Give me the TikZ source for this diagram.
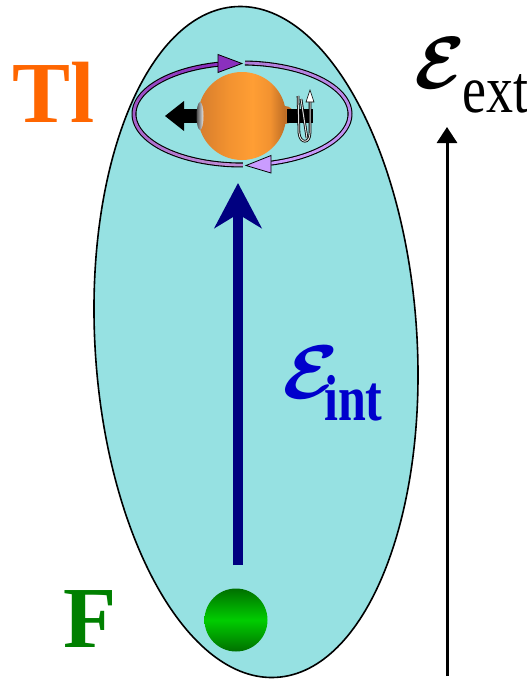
\documentclass[tikz,border=0pt]{standalone}
\usepackage{fontspec}
\setmainfont{Liberation Serif}
\usetikzlibrary{arrows.meta,calc}

\definecolor{cellfill}{RGB}{150,225,226}
\definecolor{tlorange}{RGB}{255,102,0}
\definecolor{fgreen}{RGB}{0,128,0}
\definecolor{eblue}{RGB}{0,0,204}
\definecolor{fieldnavy}{RGB}{0,0,128}
\definecolor{orbDark}{RGB}{138,48,190}
\definecolor{orbPale}{RGB}{192,142,214}
\definecolor{orbTopR}{RGB}{176,126,218}
\definecolor{orbLow}{RGB}{202,156,255}
\definecolor{orL}{RGB}{214,124,44}
\definecolor{orM}{RGB}{242,146,48}
\definecolor{orB}{RGB}{255,158,52}
\definecolor{orR}{RGB}{186,106,36}
\definecolor{orBump}{RGB}{196,114,42}
\definecolor{gDark}{RGB}{0,112,0}
\definecolor{gBright}{RGB}{0,205,0}

% horizontal shading of the Tl nucleus (the path box spans 25bp..75bp)
\pgfdeclarehorizontalshading{tlball}{100bp}{color(0bp)=(orL); color(25bp)=(orL);
  color(42bp)=(orM); color(56bp)=(orB); color(66bp)=(orM); color(75bp)=(orR); color(100bp)=(orR)}

\tikzset{
  cell/.style={draw=black, line width=1.6pt, fill=cellfill},
  ribbonbase/.style={line width=5pt, black},
  ribbon/.style={line width=2.8pt},
  orbhead/.style={draw=black, line width=0.8pt, line join=miter},
  bigfield/.style={fieldnavy, line width=10pt,
    -{Stealth[length=45pt, width=47pt, inset=14pt]}},
  extfield/.style={black, line width=3pt, -{Triangle[length=16pt, width=20pt]}},
  atomlabel/.style={inner sep=0pt, anchor=base west, font=\fontsize{87}{87}\selectfont\bfseries},
  spinline/.style={line width=2.6pt, black},
  spinglow/.style={line width=1pt, gray!25},
}

\begin{document}
\begin{tikzpicture}[x=1pt,y=-1pt]
\useasboundingbox (0,0) rectangle (527,680);

% molecule envelope
\draw[cell, rotate around={3.5:(256,342)}] (256,342) ellipse [x radius=161, y radius=336];

% internal field arrow
\coordinate (eintBase) at (238,565);
\coordinate (eintTip) at (238,183);
\draw[bigfield] (eintBase) -- (eintTip);

% F nucleus
\node[circle, minimum size=63pt, inner sep=0pt, top color=gDark, bottom color=gDark,
      middle color=gBright] (fnuc) at (236,620) {};

% electron orbit: dark ribbon with two arrowed halves
\def\ox{242}\def\oy{114}\def\orx{108}\def\ory{51}
\draw[ribbonbase] plot[variable=\t, domain=89.5:257.2, samples=60, smooth]
  ({\ox+\orx*cos(\t)},{\oy+\ory*sin(\t)});
\draw[ribbonbase] plot[variable=\t, domain=271.6:434.4, samples=60, smooth]
  ({\ox+\orx*cos(\t)},{\oy+\ory*sin(\t)});
\foreach \i in {0,...,13}{
  \pgfmathsetmacro\ta{89.5+\i*(257.2-89.5)/14}
  \pgfmathsetmacro\tb{\ta+(257.2-89.5)/14+0.4}
  \pgfmathtruncatemacro\p{100*\i/13}
  \draw[ribbon, color=orbDark!\p!orbPale] plot[variable=\t, domain=\ta:\tb, samples=8, smooth]
    ({\ox+\orx*cos(\t)},{\oy+\ory*sin(\t)});
  \pgfmathsetmacro\tc{271.6+\i*(434.4-271.6)/14}
  \pgfmathsetmacro\td{\tc+(434.4-271.6)/14+0.4}
  \draw[ribbon, color=orbLow!\p!orbTopR] plot[variable=\t, domain=\tc:\td, samples=8, smooth]
    ({\ox+\orx*cos(\t)},{\oy+\ory*sin(\t)});
}
\draw[orbhead, fill=orbDark] (242,63.5) -- (218,54.5) -- (218,72.5) -- cycle;
\draw[orbhead, fill=orbLow] (246,165.5) -- (271,155.5) -- (271,173) -- cycle;

% Tl nucleus with its bump, dipole arrow and spin
\fill[orBump] (285,115) circle [radius=9];
\node[circle, minimum size=88pt, inner sep=0pt, shading=tlball] (tlnuc) at (242,116) {};
\fill[black] (183,109) rectangle (199,123);
\fill[black] (165,116) -- (184,101) -- (184,131) -- cycle;
\shade[left color=gray!60!black, right color=gray!15] (200,116) ellipse [x radius=3.5, y radius=14];
\fill[black] (287,108.5) rectangle (313,122.5);
\draw[spinline] (298,96) -- (299,133) .. controls (300,144) and (310,144) .. (310,133) -- (310,100);
\draw[spinglow] (298,96) -- (299,133) .. controls (300,144) and (310,144) .. (310,133) -- (310,100);
\draw[spinline] (301,99) -- (307,138);
\draw[spinglow] (301,99) -- (307,138);
\draw[black, fill=white, line width=0.6pt] (310,90) -- (306,102) -- (314,102) -- cycle;

% external field arrow
\coordinate (eextBase) at (447,676);
\coordinate (eextTip) at (447,127);
\draw[extfield] (eextBase) -- (eextTip);

% labels
\node[atomlabel, text=tlorange] (tllabel) at (12,122) {Tl};
\node[atomlabel, text=fgreen] (flabel) at (63,647) {F};

\node[inner sep=0pt, text=eblue] (eintsym) at (311,372) {\scalebox{8.2}[7.6]{\boldmath$\mathcal{E}$}};
\node[inner sep=0pt, anchor=base west, text=eblue] (eintsub) at (324,420)
  {\scalebox{1}[1.3]{\fontsize{50}{50}\selectfont\bfseries int}};

\node[inner sep=0pt] (eextsym) at (440,63) {\scalebox{7.4}{\boldmath$\mathcal{E}$}};
\node[inner sep=0pt, anchor=base west] (eextsub) at (462,112)
  {\scalebox{1}[1.25]{\fontsize{54}{54}\selectfont ext}};
\end{tikzpicture}
\end{document}
